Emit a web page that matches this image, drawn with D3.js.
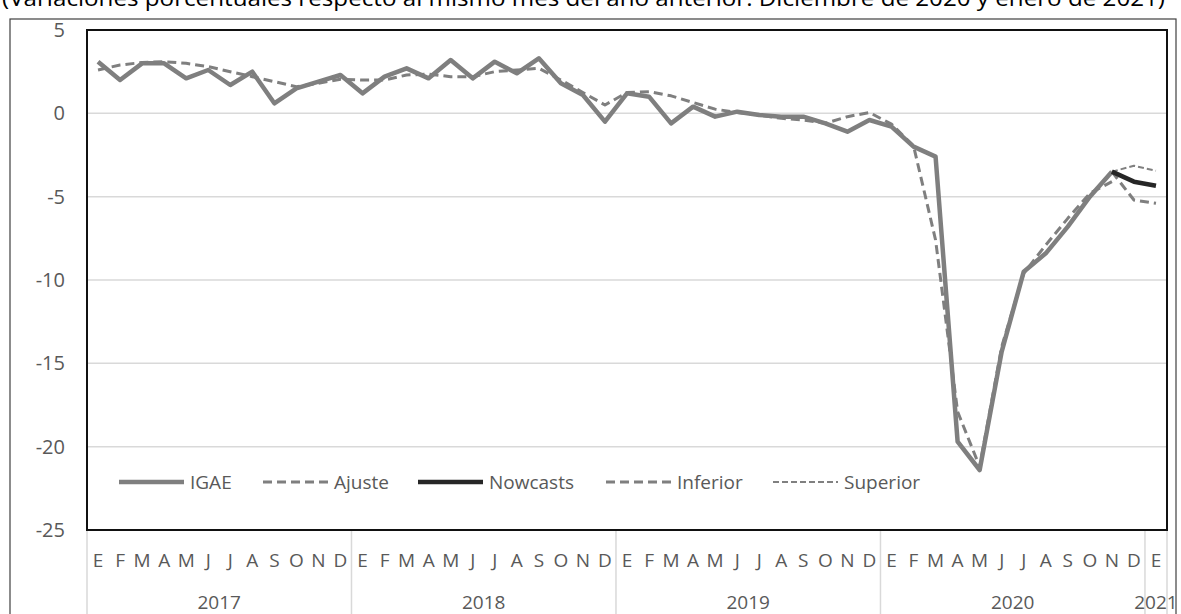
<!DOCTYPE html>
<html lang="es">
<head>
<meta charset="UTF-8">
<title>IGAE nowcast</title>
<script src="https://cdn.jsdelivr.net/npm/d3@7"></script>
<style>
    body { margin: 0; background: #fff; }
    text { font-family: "Open Sans", "Noto Sans", sans-serif; }
</style>
</head>
<body>
<svg id="chart"></svg>
<script>
    // datos
    const monthLabels = ["E","F","M","A","M","J","J","A","S","O","N","D",
                         "E","F","M","A","M","J","J","A","S","O","N","D",
                         "E","F","M","A","M","J","J","A","S","O","N","D",
                         "E","F","M","A","M","J","J","A","S","O","N","D",
                         "E"];
    const years = ["2017", "2018", "2019", "2020", "2021"];
    const yTicks = [5, 0, -5, -10, -15, -20, -25];

    // IGAE, ene-2017 a nov-2020
    const igae = [3.1, 2.0, 3.0, 3.0, 2.1, 2.6, 1.7, 2.5, 0.6, 1.5, 1.9, 2.3,
                  1.2, 2.2, 2.7, 2.1, 3.2, 2.1, 3.1, 2.4, 3.3, 1.8, 1.1, -0.5,
                  1.2, 1.0, -0.6, 0.4, -0.2, 0.1, -0.1, -0.2, -0.2, -0.6, -1.1, -0.4,
                  -0.8, -2.0, -2.6, -19.7, -21.4, -14.3, -9.5, -8.4, -6.8, -5.0, -3.5];
    const ajuste = [2.6, 2.9, 3.05, 3.1, 3.0, 2.8, 2.5, 2.2, 1.9, 1.6, 1.8, 2.05,
                    2.0, 2.0, 2.3, 2.35, 2.2, 2.2, 2.5, 2.6, 2.7, 2.0, 1.25, 0.5,
                    1.25, 1.3, 1.05, 0.65, 0.25, 0.05, -0.1, -0.3, -0.4, -0.6, -0.2, 0.05,
                    -0.65, -1.95, -7.6, -17.9, -21.2, -14.0, -9.6, -7.9, -6.3, -4.8, -4.1];
    // nov-2020 a ene-2021
    const nowcasts = [-3.5, -4.1, -4.35];
    const inferior = [-3.5, -5.2, -5.4];
    const superior = [-3.5, -3.15, -3.45];
    const bandStart = 46;

    const W = 1181, H = 614;
    const margin = {top: 30, right: 14, bottom: 84, left: 87};
    const width = W - margin.left - margin.right;
    const height = H - margin.top - margin.bottom;

    const svg = d3.select("#chart").attr("width", W).attr("height", H);

    // marco exterior
    svg.append("rect")
        .attr("x", 10).attr("y", 19)
        .attr("width", 1166).attr("height", 620)
        .attr("fill", "none").attr("stroke", "#404040").attr("stroke-width", 1.2);

    // titulo (cortado arriba)
    svg.append("text")
        .attr("x", 2).attr("y", 6)
        .attr("font-size", "22px")
        .attr("fill", "#000")
        .attr("textLength", 1163)
        .attr("lengthAdjust", "spacingAndGlyphs")
        .text("(Variaciones porcentuales respecto al mismo mes del año anterior. Diciembre de 2020 y enero de 2021)");

    const g = svg.append("g").attr("transform", "translate(" + margin.left + "," + margin.top + ")");

    const x = d3.scaleBand().domain(d3.range(monthLabels.length)).range([0, width]);
    const y = d3.scaleLinear().domain([-25, 5]).range([height, 0]);
    const cx = i => x(i) + x.bandwidth() / 2;

    // rejilla
    g.append("g")
        .selectAll("line")
        .data(yTicks)
        .enter().append("line")
        .attr("x1", 0).attr("x2", width)
        .attr("y1", d => y(d)).attr("y2", d => y(d))
        .attr("stroke", "#d9d9d9").attr("stroke-width", 1.5);

    // eje y (guion normal, como en Excel)
    const yAxis = g.append("g")
        .call(d3.axisLeft(y).tickValues(yTicks).tickFormat(d => String(d)).tickSize(0).tickPadding(22));
    yAxis.select(".domain").remove();
    yAxis.selectAll("text").attr("font-size", "20px").attr("fill", "#595959")
        .attr("font-family", "Open Sans");

    // eje x: meses
    const xAxis = g.append("g")
        .attr("transform", "translate(0," + height + ")")
        .call(d3.axisBottom(x).tickFormat(i => monthLabels[i]).tickSize(0).tickPadding(24));
    xAxis.select(".domain").remove();
    xAxis.selectAll("text").attr("font-size", "19px").attr("fill", "#595959")
        .attr("font-family", "Open Sans");

    // separadores de años
    const yearEdges = years.map((yr, k) => k * 12);
    g.append("g")
        .selectAll("line")
        .data(yearEdges.concat([monthLabels.length]))
        .enter().append("line")
        .attr("x1", d => d < monthLabels.length ? x(d) : width)
        .attr("x2", d => d < monthLabels.length ? x(d) : width)
        .attr("y1", height).attr("y2", H)
        .attr("stroke", "#d9d9d9").attr("stroke-width", 1.5);

    g.append("g")
        .selectAll("text")
        .data(years)
        .enter().append("text")
        .attr("x", (d, k) => {
            const a = k * 12, b = Math.min(a + 12, monthLabels.length);
            return (x(a) + x(b - 1) + x.bandwidth()) / 2;
        })
        .attr("y", height + 79)
        .attr("text-anchor", "middle")
        .attr("font-size", "19px")
        .attr("fill", "#595959")
        .text(d => d);

    // series
    const line = d3.line().x(d => cx(d.i)).y(d => y(d.v));
    const toPts = (arr, start) => arr.map((v, k) => ({i: start + k, v: v}));

    const series = [
        {name: "Superior", data: toPts(superior, bandStart), color: "#808080", w: 2, dash: "6,3"},
        {name: "Inferior", data: toPts(inferior, bandStart), color: "#7f7f7f", w: 3, dash: "9,5"},
        {name: "Ajuste", data: toPts(ajuste, 0), color: "#7f7f7f", w: 3, dash: "9,5"},
        {name: "IGAE", data: toPts(igae, 0), color: "#7f7f7f", w: 4.5, dash: null},
        {name: "Nowcasts", data: toPts(nowcasts, bandStart), color: "#262626", w: 4.5, dash: null}
    ];

    g.append("g")
        .selectAll("path")
        .data(series)
        .enter().append("path")
        .attr("d", d => line(d.data))
        .attr("fill", "none")
        .attr("stroke", d => d.color)
        .attr("stroke-width", d => d.w)
        .attr("stroke-linejoin", "round")
        .attr("stroke-dasharray", d => d.dash);

    // marco del area de trazado
    g.append("rect")
        .attr("x", 0).attr("y", 0).attr("width", width).attr("height", height)
        .attr("fill", "none").attr("stroke", "#111").attr("stroke-width", 2);

    // leyenda
    const legendItems = [
        {name: "IGAE", x: 32, color: "#7f7f7f", w: 4.5, dash: null},
        {name: "Ajuste", x: 176, color: "#7f7f7f", w: 3, dash: "9,5"},
        {name: "Nowcasts", x: 331, color: "#262626", w: 4.5, dash: null},
        {name: "Inferior", x: 519, color: "#7f7f7f", w: 3, dash: "9,5"},
        {name: "Superior", x: 686, color: "#808080", w: 2, dash: "6,3"}
    ];
    const lg = g.append("g").attr("transform", "translate(0," + (y(-22) + 2) + ")");
    const item = lg.selectAll("g").data(legendItems).enter().append("g")
        .attr("transform", d => "translate(" + d.x + ",0)");
    item.append("line")
        .attr("x1", 0).attr("x2", 65).attr("y1", 0).attr("y2", 0)
        .attr("stroke", d => d.color).attr("stroke-width", d => d.w)
        .attr("stroke-dasharray", d => d.dash);
    item.append("text")
        .attr("x", 71).attr("y", 0).attr("dy", "0.35em")
        .attr("font-size", "19px").attr("fill", "#595959")
        .text(d => d.name);
</script>
</body>
</html>
